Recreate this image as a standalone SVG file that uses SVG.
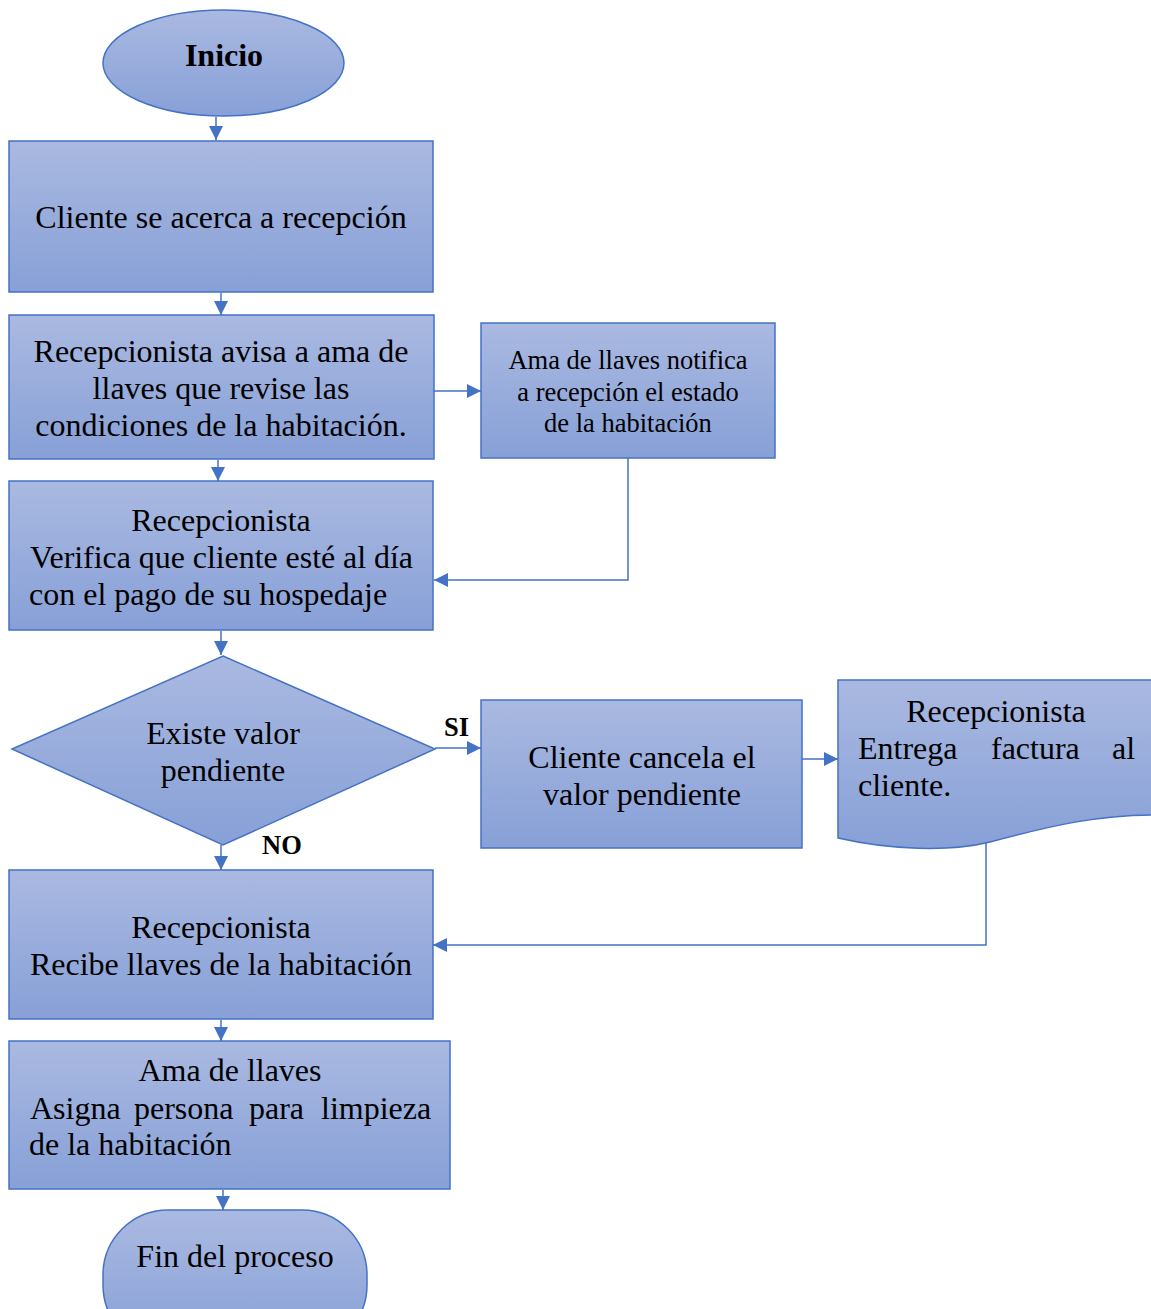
<svg xmlns="http://www.w3.org/2000/svg" width="1151" height="1309" viewBox="0 0 1151 1309">
<defs>
<linearGradient id="g" x1="0" y1="0" x2="0" y2="1">
<stop offset="0" stop-color="#aab9e1"/>
<stop offset="1" stop-color="#87a0d7"/>
</linearGradient>
<marker id="ah" markerUnits="userSpaceOnUse" markerWidth="16" markerHeight="16" viewBox="0 0 16 16" refX="15" refY="8" orient="auto">
<path d="M1,1 L15,8 L1,15 Z" fill="#4472c4"/>
</marker>
<style>
.s{fill:url(#g);stroke:#4472c4;stroke-width:1.5}
.c{fill:none;stroke:#4472c4;stroke-width:1.5;marker-end:url(#ah)}
text{font-family:"Liberation Serif","Times New Roman",serif;font-size:32px;fill:#000}
.m{text-anchor:middle}
.b{font-weight:bold}
.sm{font-size:26.5px}
</style>
</defs>
<g id="connectors">
<path class="c" d="M216,117 V140"/>
<path class="c" d="M221,293 V315"/>
<path class="c" d="M434,391 H481"/>
<path class="c" d="M628,458 V580 H434"/>
<path class="c" d="M218,460 V481"/>
<path class="c" d="M221,631 V655"/>
<path class="c" d="M435,748 H481"/>
<path class="c" d="M802,759 H838"/>
<path class="c" d="M221,845 V870"/>
<path class="c" d="M986,842 V945 H433"/>
<path class="c" d="M221,1020 V1041"/>
<path class="c" d="M223,1190 V1210"/>
</g>
<g id="inicio">
<ellipse class="s" cx="223.5" cy="63" rx="120.5" ry="53"/>
<text class="m b" x="224" y="66">Inicio</text>
</g>
<g id="n1">
<rect class="s" x="9" y="141" width="424" height="151"/>
<text class="m" x="221" y="228">Cliente se acerca a recepción</text>
</g>
<g id="n2">
<rect class="s" x="9" y="315" width="425" height="144"/>
<text class="m" x="221" y="362">Recepcionista avisa a ama de</text>
<text class="m" x="221" y="399">llaves que revise las</text>
<text class="m" x="221" y="436">condiciones de la habitación.</text>
</g>
<g id="n3">
<rect class="s" x="481" y="323" width="294" height="135"/>
<text class="m sm" x="628" y="369">Ama de llaves notifica</text>
<text class="m sm" x="628" y="401">a recepción el estado</text>
<text class="m sm" x="628" y="432">de la habitación</text>
</g>
<g id="n4">
<rect class="s" x="9" y="481" width="424" height="149"/>
<text class="m" x="221" y="531">Recepcionista</text>
<text x="30" y="568" textLength="383" lengthAdjust="spacing">Verifica que cliente esté al día</text>
<text x="29" y="605">con el pago de su hospedaje</text>
</g>
<g id="decision">
<polygon class="s" points="223,656 435,749 223,845 12,749"/>
<text class="m" x="223" y="744">Existe valor</text>
<text class="m" x="223" y="781">pendiente</text>
</g>
<g id="labels">
<text class="b sm" x="444" y="736">SI</text>
<text class="b sm" x="262" y="854">NO</text>
</g>
<g id="n5">
<rect class="s" x="481" y="700" width="321" height="148"/>
<text class="m" x="642" y="768">Cliente cancela el</text>
<text class="m" x="642" y="805">valor pendiente</text>
</g>
<g id="n6">
<path class="s" d="M838,680 H1160 V815 C1100,814 1050,826 990,842 C950,852 890,850 838,838 Z"/>
<text class="m" x="996" y="722">Recepcionista</text>
<text y="759"><tspan x="858">Entrega</tspan><tspan x="991">factura</tspan><tspan x="1112">al</tspan></text>
<text x="858" y="796">cliente.</text>
</g>
<g id="n7">
<rect class="s" x="9" y="870" width="424" height="149"/>
<text class="m" x="221" y="938">Recepcionista</text>
<text class="m" x="221" y="975">Recibe llaves de la habitación</text>
</g>
<g id="n8">
<rect class="s" x="9" y="1041" width="441" height="148"/>
<text class="m" x="230" y="1081">Ama de llaves</text>
<text y="1119"><tspan x="30">Asigna</tspan><tspan x="134">persona</tspan><tspan x="249">para</tspan><tspan x="321">limpieza</tspan></text>
<text x="29" y="1155">de la habitación</text>
</g>
<g id="fin">
<rect class="s" x="103" y="1210" width="264" height="140" rx="65" ry="65"/>
<text class="m" x="235" y="1267">Fin del proceso</text>
</g>
</svg>
